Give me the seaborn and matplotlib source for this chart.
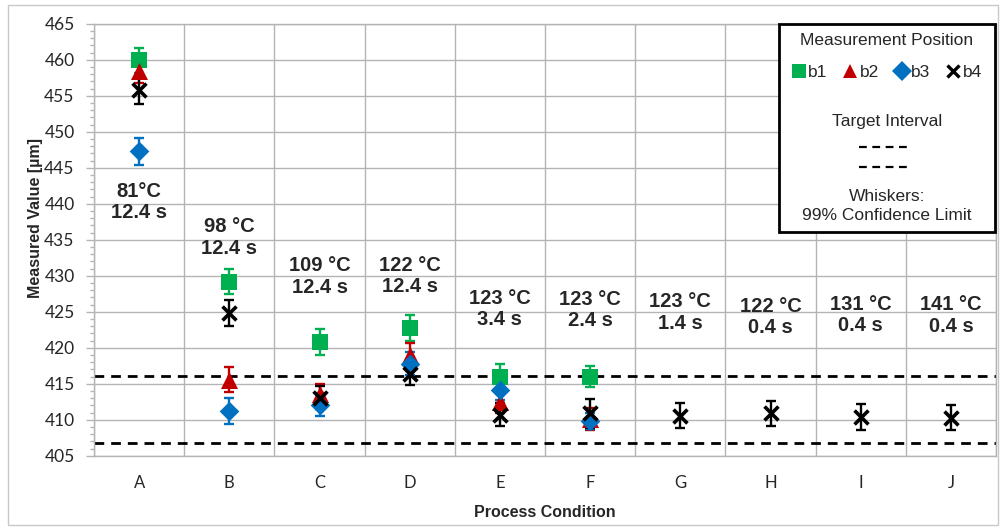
import numpy as np
import pandas as pd
import matplotlib.pyplot as plt
import seaborn as sns
from matplotlib.lines import Line2D
from matplotlib.patches import Rectangle
from matplotlib.ticker import MultipleLocator

conditions = ["A", "B", "C", "D", "E", "F", "G", "H", "I", "J"]
cond_labels = ["81°C\n12.4 s", "98 °C\n12.4 s", "109 °C\n12.4 s", "122 °C\n12.4 s",
               "123 °C\n3.4 s", "123 °C\n2.4 s", "123 °C\n1.4 s", "122 °C\n0.4 s",
               "131 °C\n0.4 s", "141 °C\n0.4 s"]
label_y = [440.2, 435.3, 429.9, 430.0, 425.4, 425.3, 424.9, 424.3, 424.6, 424.5]

# mean values and 99% confidence half-widths per measurement position
b1_mean = [459.9, 429.2, 420.8, 422.7, 416.0, 416.0]
b1_err = [1.7, 1.7, 1.8, 1.8, 1.8, 1.5]
b2_mean = [458.4, 415.6, 413.6, 419.0, 412.5, 410.1]
b2_err = [1.6, 1.7, 1.4, 1.6, 1.5, 1.5]
b3_mean = [447.3, 411.2, 412.1, 417.8, 414.2, 409.8]
b3_err = [1.85, 1.8, 1.6, 1.6, 1.5, 1.1]
b4_mean = [455.8, 424.8, 413.1, 416.3, 410.7, 410.9, 410.6, 410.9, 410.4, 410.3]
b4_err = [1.9, 1.8, 1.6, 1.5, 1.6, 2.0, 1.7, 1.7, 1.8, 1.75]

target_upper = 416.15
target_lower = 406.8

positions = ["b1", "b2", "b3", "b4"]
means = [b1_mean, b2_mean, b3_mean, b4_mean]
errs = [b1_err, b2_err, b3_err, b4_err]

rows = []
for p, m, e in zip(positions, means, errs):
    for i, (v, err) in enumerate(zip(m, e)):
        rows.append({"position": p, "condition": conditions[i], "x": i, "value": v, "err": err})
df = pd.DataFrame(rows)

style = {
    "b1": dict(marker="s", color="#00B050", s=135, lw=0),
    "b2": dict(marker="^", color="#C00000", s=150, lw=0),
    "b3": dict(marker="D", color="#0070C0", s=100, lw=0),
    "b4": dict(marker="x", color="black", s=100, lw=2.6),
}

sns.set_style("white")
plt.rcParams["font.family"] = ["Liberation Sans", "DejaVu Sans"]

fig, ax = plt.subplots(figsize=(10, 5.27), dpi=100)
fig.subplots_adjust(left=0.094, right=0.996, bottom=0.135, top=0.955)

grid_c = "#b4b4b4"
ax.axhline(target_upper, color="black", lw=2, ls=(0, (3.5, 2.5)), zorder=2, clip_on=False)
ax.axhline(target_lower, color="black", lw=2, ls=(0, (3.5, 2.5)), zorder=2, clip_on=False)

for p in positions:
    g = df[df.position == p]
    st = style[p]
    ax.errorbar(g.x, g.value, yerr=g.err, fmt="none", ecolor=st["color"],
                elinewidth=1.7, capsize=3.5, capthick=1.7, zorder=3)
    sns.scatterplot(data=g, x="x", y="value", marker=st["marker"], color=st["color"],
                    s=st["s"], linewidth=st["lw"], ax=ax, zorder=4, legend=False)

for i, (lab, y) in enumerate(zip(cond_labels, label_y)):
    ax.text(i, y, lab, ha="center", va="center", fontsize=14.5, fontweight="bold",
            linespacing=1.15, zorder=5)

ax.set_xlim(-0.5, len(conditions) - 0.5)
ax.set_ylim(405, 465)
ax.set_xticks(range(len(conditions)))
ax.set_xticklabels(conditions, fontfamily="Lato", fontsize=12, color="#262626")
ax.set_xticks(np.arange(-0.5, len(conditions), 1), minor=True)
ax.set_yticks(range(405, 466, 5))
ax.set_yticklabels([str(v) for v in range(405, 466, 5)], fontfamily="Lato", fontsize=12.5,
                   color="#262626")
ax.yaxis.set_minor_locator(MultipleLocator(1))
ax.tick_params(axis="x", which="major", length=0, pad=14)
ax.tick_params(axis="x", which="minor", length=8, color=grid_c, width=1)
ax.tick_params(axis="y", which="major", left=True, length=6, color=grid_c, width=1, pad=8)
ax.tick_params(axis="y", which="minor", left=True, length=3, color=grid_c, width=1)
ax.grid(which="minor", axis="x", color=grid_c, lw=1)
ax.grid(which="major", axis="y", color=grid_c, lw=1)
ax.grid(which="major", axis="x", visible=False)
for sp in ax.spines.values():
    sp.set_color(grid_c)
    sp.set_linewidth(1)

ax.set_xlabel("Process Condition", fontsize=11.5, fontweight="bold", labelpad=10)
ax.set_ylabel("Measured Value [µm]", fontsize=11.5, fontweight="bold")
ax.yaxis.set_label_coords(-0.056, 0.55)

# legend box
bx0, by0, bw, bh = 0.759, 0.518, 0.240, 0.482
ax.add_patch(Rectangle((bx0, by0), bw, bh, transform=ax.transAxes, facecolor="white",
                       edgecolor="black", lw=2, zorder=10, clip_on=False))
cx = bx0 + bw / 2
ax.text(cx, 0.9606, "Measurement Position", transform=ax.transAxes, ha="center",
        va="center", fontsize=12.5, zorder=11)
handles = [Line2D([], [], ls="none", marker=style[p]["marker"], color=style[p]["color"],
                  markersize=10 if p != "b4" else 8, markeredgewidth=2.4 if p == "b4" else 0,
                  label=p) for p in positions]
ax.legend(handles=handles, ncol=4, loc="center", bbox_to_anchor=(cx, 0.8866),
          frameon=False, handlelength=0.8, handletextpad=0.15, columnspacing=0.9,
          fontsize=12.5, borderpad=0).set_zorder(12)
ax.text(cx, 0.773, "Target Interval", transform=ax.transAxes, ha="center",
        va="center", fontsize=12.5, zorder=11)
for yy in (0.715, 0.669):
    ax.add_line(Line2D([0.848, 0.905], [yy, yy], transform=ax.transAxes, color="black",
                       lw=1.6, ls=(0, (3.5, 2.5)), zorder=11))
ax.text(cx, 0.5995, "Whiskers:", transform=ax.transAxes, ha="center",
        va="center", fontsize=12.5, zorder=11)
ax.text(cx, 0.5556, "99% Confidence Limit", transform=ax.transAxes, ha="center",
        va="center", fontsize=12.5, zorder=11)

fig.patches.append(Rectangle((0.008, 0.004), 0.99, 0.986, transform=fig.transFigure,
                             fill=False, edgecolor="#c8c8c8", lw=1))

fig.savefig("out.png", dpi=100)
